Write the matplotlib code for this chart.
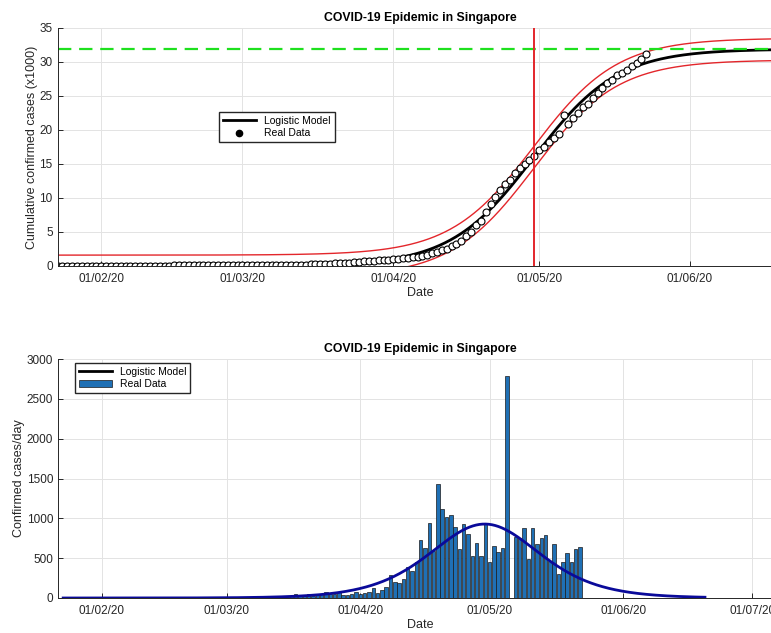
import numpy as np
import matplotlib
matplotlib.use("Agg")
import matplotlib.pyplot as plt
import matplotlib.dates as mdates
from matplotlib.lines import Line2D
from matplotlib.patches import Patch

plt.rcParams['font.family'] = ['Liberation Sans', 'DejaVu Sans']

# reported new cases per day, first entry is 23 Jan 2020
new_jan = [1, 2, 0, 1, 1, 2, 0, 3, 3]
new_feb = [3, 2, 0, 6, 4, 0, 2, 3, 7, 5, 2, 3, 8, 9, 5, 3, 2, 4, 3, 0,
           1, 0, 4, 0, 2, 2, 0, 3, 6]
new_mar = [4, 2, 2, 0, 7, 13, 8, 12, 0, 10, 18, 0, 22, 12, 14, 17, 23, 47,
           32, 40, 47, 23, 54, 49, 73, 52, 49, 70, 42, 35, 47]
new_apr = [74, 49, 65, 75, 120, 66, 106, 142, 287, 198, 191, 233, 386, 334,
           447, 728, 623, 942, 596, 1426, 1111, 1016, 1037, 897, 618, 931,
           799, 528, 690, 528]
new_may = [932, 447, 657, 573, 632, 2790, -1258, 768, 753, 876, 486, 884,
           675, 752, 793, 465, 682, 305, 451, 570, 448, 614, 642]

first_day = np.datetime64('2020-01-23')
model_last_day = np.datetime64('2020-06-20')

# logistic fit: final size (x1000), growth rate per day, inflection day
K = 31.9
r = 0.1164
t_peak = np.datetime64('2020-04-29T21:00')
band = 1.6

daily = np.array(new_jan + new_feb + new_mar + new_apr + new_may)
days = first_day + np.arange(len(daily))
total = np.cumsum(daily)

xd = mdates.date2num(days)
xm = np.linspace(mdates.date2num(first_day), mdates.date2num(model_last_day), 800)
tp = mdates.date2num(t_peak)
e = np.exp(-r * (xm - tp))
logistic = K / (1 + e)
rate = 1000 * K * r * e / (1 + e) ** 2

fig = plt.figure(figsize=(7.71, 6.33), dpi=100)
ax1 = fig.add_axes([57.5 / 771, 1 - 266 / 633, 725 / 771, 238 / 633])
ax2 = fig.add_axes([58 / 771, 1 - 598 / 633, 724.5 / 771, 239 / 633])

txt = '#262626'
for ax in (ax1, ax2):
    ax.grid(True, color='#e3e3e3', lw=0.7)
    ax.set_axisbelow(True)
    for s in ('top', 'right'):
        ax.spines[s].set_visible(False)
    for s in ('left', 'bottom'):
        ax.spines[s].set_color(txt)
        ax.spines[s].set_linewidth(0.7)
    ax.tick_params(direction='in', length=3.5, width=0.7, colors=txt,
                   labelsize=8.5)
    ax.tick_params(axis='x', pad=5)
    ax.tick_params(axis='y', pad=3.5)
    ax.xaxis.set_major_locator(mdates.MonthLocator(bymonthday=1))
    ax.xaxis.set_major_formatter(mdates.DateFormatter('%d/%m/%y'))
    ax.set_xlabel('Date', fontsize=9, color=txt, labelpad=1.5)
    ax.set_title('COVID-19 Epidemic in Singapore', fontsize=8.8,
                 fontweight='bold', pad=5)

# cumulative cases with logistic fit and bounds
ax1.plot(xm, logistic + band, color='#e3262b', lw=1)
ax1.plot(xm, logistic - band, color='#e3262b', lw=1)
ax1.plot(xm, logistic, color='black', lw=2)
ax1.plot(xd, total / 1000, ls='none', marker='o', ms=5, mfc='white',
         mec='black', mew=0.8)
ax1.axhline(K, color='#1ee01e', lw=1.6, ls=(0, (6, 3.5)))
ax1.axvline(tp, color='#e3262b', lw=1.4)
ax1.set_xlim(mdates.date2num(first_day), mdates.date2num(model_last_day))
ax1.set_ylim(0, 35)
ax1.set_yticks(np.arange(0, 36, 5))
ax1.set_ylabel('Cumulative confirmed cases (x1000)', fontsize=9, color=txt,
               labelpad=1)
ax1.legend([Line2D([], [], color='black', lw=2),
            Line2D([], [], ls='none', marker='o', ms=4.5, color='black')],
           ['Logistic Model', 'Real Data'], loc='upper left',
           bbox_to_anchor=(0.223, 0.647), borderaxespad=0, fontsize=7.5,
           fancybox=False, edgecolor=txt, framealpha=1, handlelength=3.2,
           borderpad=0.35, labelspacing=0.25)

# new cases per day
ax2.bar(xd[:-1], np.diff(total), width=0.8, color='#1f70b5',
        edgecolor='#1a1a1a', lw=0.5)
ax2.plot(xm, rate, color='#0a0a9a', lw=2)
ax2.set_xlim(mdates.date2num(first_day) - 1.2, mdates.date2num(first_day) + 167)
ax2.set_ylim(0, 3000)
ax2.set_yticks(np.arange(0, 3001, 500))
ax2.set_ylabel('Confirmed cases/day', fontsize=9, color=txt, labelpad=1)
ax2.legend([Line2D([], [], color='black', lw=2),
            Patch(facecolor='#1f70b5', edgecolor='#1a1a1a', lw=0.5)],
           ['Logistic Model', 'Real Data'], loc='upper left',
           bbox_to_anchor=(0.0235, 0.983), borderaxespad=0, fontsize=7.5,
           fancybox=False, edgecolor=txt, framealpha=1, handlelength=3.2,
           borderpad=0.35, labelspacing=0.25)

fig.savefig('out.png', dpi=100)
